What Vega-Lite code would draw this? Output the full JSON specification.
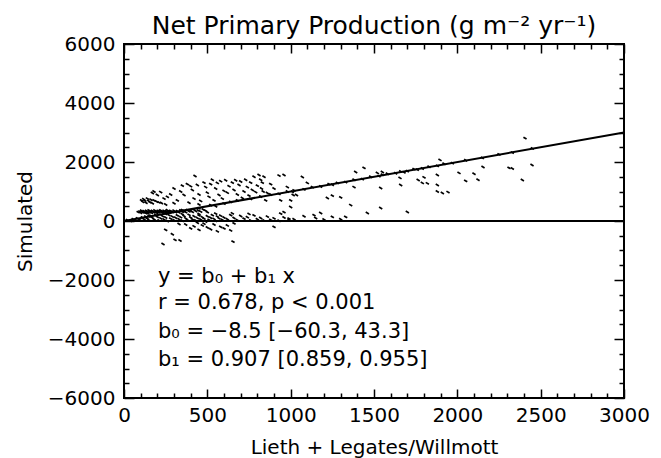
{
  "$schema": "https://vega.github.io/schema/vega-lite/v6.json",
  "width": 500,
  "height": 354,
  "autosize": {"type": "none"},
  "padding": {"left": 124, "top": 44, "right": 37, "bottom": 60},
  "background": "white",
  "config": {
    "view": {"stroke": "black", "strokeWidth": 2},
    "font": "DejaVu Sans",
    "axis": {"domain": false, "grid": false, "tickColor": "black", "tickWidth": 1.5, "labelColor": "black", "titleColor": "black", "labelFontSize": 20, "titleFontSize": 20, "titleFontWeight": "normal", "labelFont": "DejaVu Sans", "titleFont": "DejaVu Sans"}
  },
  "title": {"text": "Net Primary Production (g m⁻² yr⁻¹)", "fontSize": 25, "fontWeight": "normal", "font": "DejaVu Sans", "anchor": "middle", "frame": "group", "offset": -25, "baseline": "alphabetic", "color": "black"},
  "datasets": {
    "pts": [
      {"x":85,"y":300},{"x":95,"y":320},{"x":100,"y":280},{"x":105,"y":350},{"x":110,"y":310},{"x":115,"y":290},{"x":120,"y":335},{"x":125,"y":300},{"x":130,"y":270},{"x":135,"y":345},{"x":140,"y":315},{"x":145,"y":290},{"x":150,"y":360},{"x":155,"y":300},{"x":160,"y":325},{"x":165,"y":280},{"x":170,"y":340},{"x":175,"y":310},{"x":180,"y":295},{"x":185,"y":355},{"x":190,"y":320},{"x":195,"y":275},{"x":200,"y":305},{"x":205,"y":340},{"x":210,"y":290},{"x":215,"y":330},{"x":220,"y":360},{"x":225,"y":300},{"x":230,"y":320},{"x":235,"y":280},{"x":240,"y":345},{"x":245,"y":310},{"x":250,"y":295},{"x":255,"y":330},{"x":260,"y":365},{"x":265,"y":300},{"x":270,"y":320},{"x":275,"y":285},{"x":280,"y":340},{"x":290,"y":310},{"x":300,"y":350},{"x":310,"y":300},{"x":320,"y":330},{"x":330,"y":290},{"x":340,"y":360},{"x":350,"y":315},{"x":360,"y":340},{"x":370,"y":300},{"x":380,"y":370},{"x":390,"y":330},{"x":400,"y":350},{"x":410,"y":310},{"x":420,"y":380},{"x":430,"y":340},{"x":445,"y":360},{"x":460,"y":320},{"x":475,"y":390},{"x":490,"y":350},{"x":500,"y":300},{"x":140,"y":260},
      {"x":105,"y":700},{"x":112,"y":650},{"x":118,"y":740},{"x":125,"y":690},{"x":132,"y":620},{"x":140,"y":760},{"x":148,"y":680},{"x":155,"y":640},{"x":162,"y":720},{"x":170,"y":600},{"x":180,"y":700},{"x":195,"y":660},{"x":210,"y":630},{"x":225,"y":610},
      {"x":20,"y":30},{"x":40,"y":10},{"x":55,"y":60},{"x":70,"y":20},{"x":80,"y":90},{"x":95,"y":40},{"x":110,"y":120},{"x":120,"y":60},{"x":130,"y":150},{"x":140,"y":80},{"x":150,"y":30},{"x":160,"y":180},{"x":170,"y":110},{"x":180,"y":60},{"x":190,"y":200},{"x":200,"y":140},{"x":210,"y":20},{"x":220,"y":90},{"x":230,"y":170},{"x":240,"y":50},{"x":250,"y":120},{"x":260,"y":0},{"x":270,"y":200},{"x":280,"y":80},{"x":290,"y":150},{"x":300,"y":30},{"x":310,"y":110},{"x":320,"y":190},{"x":330,"y":60},{"x":340,"y":130},{"x":350,"y":10},{"x":360,"y":170},{"x":370,"y":90},{"x":380,"y":40},{"x":390,"y":210},{"x":400,"y":120},{"x":410,"y":60},{"x":420,"y":160},{"x":430,"y":20},{"x":440,"y":100},{"x":450,"y":190},{"x":460,"y":50},{"x":470,"y":130},{"x":480,"y":80},{"x":490,"y":-20},{"x":500,"y":160},{"x":510,"y":40},{"x":520,"y":110},{"x":530,"y":200},{"x":540,"y":70},{"x":550,"y":10},{"x":560,"y":150},{"x":570,"y":90},{"x":580,"y":180},{"x":590,"y":40},{"x":600,"y":120},{"x":620,"y":60},{"x":640,"y":200},{"x":660,"y":100},{"x":680,"y":30},{"x":700,"y":170},{"x":720,"y":80},{"x":740,"y":130},{"x":760,"y":20},{"x":780,"y":190},{"x":800,"y":60},{"x":820,"y":100},{"x":840,"y":20},{"x":860,"y":150},{"x":880,"y":40},{"x":900,"y":90},{"x":930,"y":10},{"x":960,"y":120},{"x":990,"y":30},{"x":1020,"y":60},{"x":750,"y":240},{"x":650,"y":260},{"x":550,"y":250},{"x":450,"y":240},{"x":350,"y":230},
      {"x":150,"y":160},{"x":250,"y":240},{"x":350,"y":370},{"x":450,"y":430},{"x":520,"y":540},{"x":600,"y":590},{"x":680,"y":700},{"x":760,"y":750},{"x":820,"y":830},{"x":880,"y":900},{"x":930,"y":920},{"x":980,"y":1000},{"x":1020,"y":1040},{"x":1080,"y":1070},{"x":1130,"y":1150},{"x":1180,"y":1170},{"x":1230,"y":1250},{"x":1280,"y":1290},{"x":1330,"y":1320},{"x":1380,"y":1400},{"x":1430,"y":1420},{"x":1480,"y":1500},{"x":1530,"y":1520},{"x":1580,"y":1600},{"x":1630,"y":1620},{"x":1660,"y":1680},{"x":1700,"y":1690},{"x":1740,"y":1760},{"x":1790,"y":1780},{"x":1830,"y":1840},{"x":1880,"y":1870},{"x":1920,"y":1940},{"x":1970,"y":1960},{"x":2050,"y":2060},{"x":2150,"y":2140},{"x":2250,"y":2260},{"x":2330,"y":2320},{"x":2450,"y":2460},{"x":1010,"y":990},{"x":1250,"y":1230},{"x":1550,"y":1570},{"x":1680,"y":1650},{"x":1760,"y":1740},
      {"x":170,"y":950},{"x":180,"y":1000},{"x":200,"y":880},{"x":220,"y":980},{"x":240,"y":760},{"x":260,"y":820},{"x":280,"y":900},{"x":300,"y":1100},{"x":320,"y":700},{"x":340,"y":1000},{"x":350,"y":1200},{"x":360,"y":880},{"x":380,"y":1250},{"x":390,"y":620},{"x":400,"y":1180},{"x":410,"y":1050},{"x":420,"y":760},{"x":426,"y":1525},{"x":440,"y":1220},{"x":450,"y":900},{"x":460,"y":680},{"x":480,"y":1300},{"x":490,"y":1150},{"x":500,"y":960},{"x":510,"y":820},{"x":520,"y":1250},{"x":530,"y":1400},{"x":540,"y":700},{"x":550,"y":1100},{"x":560,"y":1290},{"x":570,"y":880},{"x":580,"y":1350},{"x":590,"y":760},{"x":600,"y":1020},{"x":610,"y":1380},{"x":620,"y":960},{"x":630,"y":1180},{"x":640,"y":650},{"x":650,"y":1300},{"x":660,"y":1050},{"x":670,"y":1380},{"x":680,"y":900},{"x":690,"y":1220},{"x":700,"y":1340},{"x":710,"y":780},{"x":720,"y":1000},{"x":730,"y":1400},{"x":740,"y":1150},{"x":750,"y":860},{"x":760,"y":1300},{"x":770,"y":1050},{"x":780,"y":1500},{"x":790,"y":980},{"x":800,"y":1200},{"x":810,"y":1560},{"x":820,"y":1400},{"x":825,"y":1100},{"x":830,"y":1300},{"x":835,"y":1000},{"x":840,"y":1500},{"x":850,"y":700},{"x":860,"y":950},{"x":880,"y":1250},{"x":900,"y":1100},{"x":300,"y":600},{"x":250,"y":560},{"x":450,"y":560},{"x":550,"y":500},
      {"x":930,"y":1540},{"x":960,"y":1560},{"x":980,"y":1150},{"x":1000,"y":700},{"x":1015,"y":880},{"x":1035,"y":880},{"x":1070,"y":1490},{"x":1100,"y":1290},{"x":1140,"y":200},{"x":1080,"y":160},{"x":1180,"y":270},{"x":1220,"y":780},{"x":1250,"y":860},{"x":1300,"y":800},{"x":1250,"y":140},{"x":1330,"y":140},{"x":1360,"y":540},{"x":1380,"y":1150},{"x":1390,"y":1660},{"x":1440,"y":1800},{"x":1460,"y":270},{"x":1520,"y":1630},{"x":1550,"y":1660},{"x":1540,"y":1120},{"x":1540,"y":440},{"x":940,"y":250},{"x":960,"y":300},{"x":990,"y":80},{"x":900,"y":-200},{"x":940,"y":700},{"x":1000,"y":475},{"x":1150,"y":100},{"x":1200,"y":50},{"x":1300,"y":60},
      {"x":1656,"y":1460},{"x":1660,"y":1220},{"x":1700,"y":305},{"x":1765,"y":1390},{"x":1790,"y":1290},{"x":1800,"y":1480},{"x":1820,"y":1277},{"x":1880,"y":1560},{"x":1880,"y":1220},{"x":1880,"y":1000},{"x":1910,"y":950},{"x":1944,"y":980},{"x":1896,"y":2070},{"x":2010,"y":1630},{"x":2050,"y":1360},{"x":2100,"y":1600},{"x":2124,"y":1400},{"x":2154,"y":1830},{"x":2310,"y":1800},{"x":2330,"y":1780},{"x":2390,"y":1390},{"x":2448,"y":1900},{"x":2406,"y":2810},
      {"x":370,"y":-120},{"x":400,"y":-250},{"x":420,"y":-180},{"x":450,"y":-300},{"x":470,"y":-150},{"x":500,"y":-220},{"x":520,"y":-280},{"x":540,"y":-120},{"x":560,"y":-350},{"x":580,"y":-200},{"x":600,"y":-250},{"x":620,"y":-150},{"x":640,"y":-320},{"x":480,"y":-90},{"x":440,"y":-60},{"x":330,"y":-100},{"x":660,"y":-80},{"x":234,"y":-780},{"x":306,"y":-640},{"x":336,"y":-660},{"x":654,"y":-700},{"x":290,"y":-450},{"x":250,"y":-300}
    ],
    "zero": [{"x": 0, "y": 0, "x2": 3000, "y2": 0}],
    "fit": [{"x": 0, "y": 0, "x2": 3000, "y2": 3000}],
    "notes": [
      {"x": 204, "y": -1898, "t": "y = b₀ + b₁ x"},
      {"x": 204, "y": -2780, "t": "r = 0.678, p < 0.001"},
      {"x": 204, "y": -3763, "t": "b₀ = −8.5 [−60.3, 43.3]"},
      {"x": 204, "y": -4712, "t": "b₁ = 0.907 [0.859, 0.955]"}
    ]
  },
  "layer": [
    {
      "data": {"name": "pts"},
      "mark": {"type": "point", "shape": "M-1,-0.6L1,0.6", "size": 10, "filled": false, "stroke": "black", "strokeWidth": 1.7, "opacity": 1},
      "encoding": {
        "x": {"field": "x", "type": "quantitative", "scale": {"domain": [0, 3000], "nice": false, "zero": false},
              "axis": {"orient": "bottom", "values": [0, 500, 1000, 1500, 2000, 2500, 3000], "format": "d", "tickSize": -9, "labelPadding": 16, "labelFlush": false, "labelOverlap": false, "title": "Lieth + Legates/Willmott", "titlePadding": 12}},
        "y": {"field": "y", "type": "quantitative", "scale": {"domain": [-6000, 6000], "nice": false, "zero": false},
              "axis": {"orient": "left", "values": [-6000, -4000, -2000, 0, 2000, 4000, 6000], "format": "d", "tickSize": -10, "labelPadding": 19, "labelFlush": false, "labelOverlap": false, "title": "Simulated", "titlePadding": 12}}
      }
    },
    {
      "data": {"name": "zero"},
      "mark": {"type": "rule", "color": "black", "strokeWidth": 2},
      "encoding": {
        "x": {"field": "x", "type": "quantitative", "axis": {"orient": "bottom", "values": [100,200,300,400,600,700,800,900,1100,1200,1300,1400,1600,1700,1800,1900,2100,2200,2300,2400,2600,2700,2800,2900], "tickSize": -5, "labels": false, "title": null}},
        "x2": {"field": "x2"},
        "y": {"field": "y", "type": "quantitative", "axis": {"orient": "left", "values": [-5500,-5000,-4500,-3500,-3000,-2500,-1500,-1000,-500,500,1000,1500,2500,3000,3500,4500,5000,5500], "tickSize": -5, "labels": false, "title": null}},
        "y2": {"field": "y2"}
      }
    },
    {
      "data": {"name": "fit"},
      "mark": {"type": "rule", "color": "black", "strokeWidth": 2},
      "encoding": {
        "x": {"field": "x", "type": "quantitative", "axis": {"orient": "top", "values": [0, 500, 1000, 1500, 2000, 2500, 3000], "tickSize": -9, "labels": false, "title": null}},
        "x2": {"field": "x2"},
        "y": {"field": "y", "type": "quantitative", "axis": {"orient": "right", "values": [-6000, -4000, -2000, 0, 2000, 4000, 6000], "tickSize": -10, "labels": false, "title": null}},
        "y2": {"field": "y2"}
      }
    },
    {
      "data": {"name": "notes"},
      "mark": {"type": "text", "align": "left", "baseline": "middle", "fontSize": 21, "font": "DejaVu Sans", "color": "black"},
      "encoding": {
        "x": {"field": "x", "type": "quantitative", "axis": {"orient": "top", "values": [100,200,300,400,600,700,800,900,1100,1200,1300,1400,1600,1700,1800,1900,2100,2200,2300,2400,2600,2700,2800,2900], "tickSize": -5, "labels": false, "title": null}},
        "y": {"field": "y", "type": "quantitative", "axis": {"orient": "right", "values": [-5500,-5000,-4500,-3500,-3000,-2500,-1500,-1000,-500,500,1000,1500,2500,3000,3500,4500,5000,5500], "tickSize": -5, "labels": false, "title": null}},
        "text": {"field": "t"}
      }
    }
  ],
  "resolve": {"axis": {"x": "independent", "y": "independent"}}
}
